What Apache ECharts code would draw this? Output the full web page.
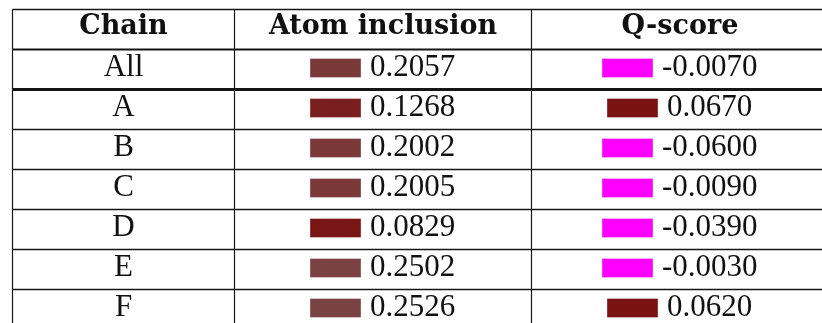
<!DOCTYPE html>
<html>
<head>
<meta charset="utf-8">
<script src="https://cdn.jsdelivr.net/npm/echarts@6/dist/echarts.min.js"></script>
<style>
  html, body { margin: 0; padding: 0; background: #fff; }
  #chain-table { width: 822px; height: 323px; }
</style>
</head>
<body>
<div id="chain-table"></div>
<script>
var headers = ['Chain', 'Atom inclusion', 'Q-score'];
var chains = ['All', 'A', 'B', 'C', 'D', 'E', 'F'];
var atomInclusion = [0.2057, 0.1268, 0.2002, 0.2005, 0.0829, 0.2502, 0.2526];
var qScore = [-0.0070, 0.0670, -0.0600, -0.0090, -0.0390, -0.0030, 0.0620];

// column edges in px from the left rule; the last column runs past the right edge
var colEdges = [0, 222, 519, 816];
var rowHeight = 40;
var gridLeft = 12.5, gridTop = 9.5;
var headFont = 'bold 27px "DejaVu Serif"';
var bodyFont = '31px "Liberation Serif"';
var lineColor = '#151515';

var measureCtx = document.createElement('canvas').getContext('2d');
function textWidth(s, font) {
  measureCtx.font = font;
  return measureCtx.measureText(s).width;
}

// swatch colours: dark red getting greyer as atom inclusion grows
function atomColor(v) {
  var stops = [[0.08, 20], [0.13, 32], [0.20, 56], [0.26, 68]];
  var g = stops[0][1];
  for (var i = 1; i < stops.length; i++) {
    if (v <= stops[i][0]) {
      var t = (v - stops[i - 1][0]) / (stops[i][0] - stops[i - 1][0]);
      g = stops[i - 1][1] + t * (stops[i][1] - stops[i - 1][1]);
      break;
    }
    g = stops[i][1];
  }
  g = Math.round(g);
  return 'rgb(122,' + g + ',' + g + ')';
}
function qColor(v) {
  return v < 0 ? '#ff00ff' : '#7a1212';
}

function fmt(v) {
  return v.toFixed(4);
}

function cell(children, left, right, top, color, label) {
  var sw = 51, gap = 9;
  var w = sw + gap + textWidth(label, bodyFont);
  var x0 = Math.round((left + right) / 2 - w / 2);
  children.push({
    type: 'rect',
    shape: { x: x0, y: top + 9, width: sw, height: 19 },
    style: { fill: color, stroke: 'rgba(255,255,255,0.35)', lineWidth: 1 }
  });
  children.push({
    type: 'text',
    style: {
      text: label, x: x0 + sw + gap, y: top + 18.5,
      font: bodyFont, fill: '#111', align: 'left', verticalAlign: 'middle'
    }
  });
}

function hline(children, x1, x2, y, lw) {
  children.push({
    type: 'line',
    shape: { x1: x1, y1: y, x2: x2, y2: y },
    style: { stroke: lineColor, lineWidth: lw }
  });
}

var rows = [0];
for (var i = 0; i < chains.length; i++) rows.push(i + 1);

var dom = document.getElementById('chain-table');
var chart = echarts.init(dom);
var option = {
  animation: false,
  backgroundColor: '#fff',
  grid: { left: gridLeft, top: gridTop, right: 0, bottom: 0 },
  // 1 unit = 1px across, 1 unit = one row down; grid stops at the canvas edge
  xAxis: { type: 'value', min: 0, max: dom.clientWidth - gridLeft, show: false },
  yAxis: { type: 'value', min: 0, max: (dom.clientHeight - gridTop) / rowHeight, inverse: true, show: false },
  series: [{
    type: 'custom',
    clip: false,
    data: rows,
    renderItem: function (params, api) {
      var row = api.value(0);
      var top = api.coord([0, row])[1];
      var bottom = api.coord([0, row + 1])[1];
      var xs = colEdges.map(function (e) { return api.coord([e, row])[0]; });
      var children = [];

      if (row === 0) {
        headers.forEach(function (h, c) {
          children.push({
            type: 'text',
            style: {
              text: h, x: (xs[c] + xs[c + 1]) / 2, y: top + 17.5,
              font: headFont, fill: '#111', align: 'center', verticalAlign: 'middle'
            }
          });
        });
        hline(children, xs[0], xs[3], top, 1.3);
      } else {
        var k = row - 1;
        children.push({
          type: 'text',
          style: {
            text: chains[k], x: (xs[0] + xs[1]) / 2, y: top + 18.5,
            font: bodyFont, fill: '#111', align: 'center', verticalAlign: 'middle'
          }
        });
        cell(children, xs[1], xs[2], top, atomColor(atomInclusion[k]), fmt(atomInclusion[k]));
        cell(children, xs[2], xs[3], top, qColor(qScore[k]), fmt(qScore[k]));
      }

      // rule under the row: header and the "All" row get heavier ones
      var lw = row === 0 ? 2.2 : (row === 1 ? 3.2 : 1.3);
      hline(children, xs[0], xs[3], bottom, lw);

      [0, 1, 2].forEach(function (c) {
        children.push({
          type: 'line',
          shape: { x1: xs[c], y1: top, x2: xs[c], y2: bottom },
          style: { stroke: lineColor, lineWidth: 1.2 }
        });
      });

      return { type: 'group', children: children };
    }
  }]
};
chart.setOption(option);
</script>
</body>
</html>
